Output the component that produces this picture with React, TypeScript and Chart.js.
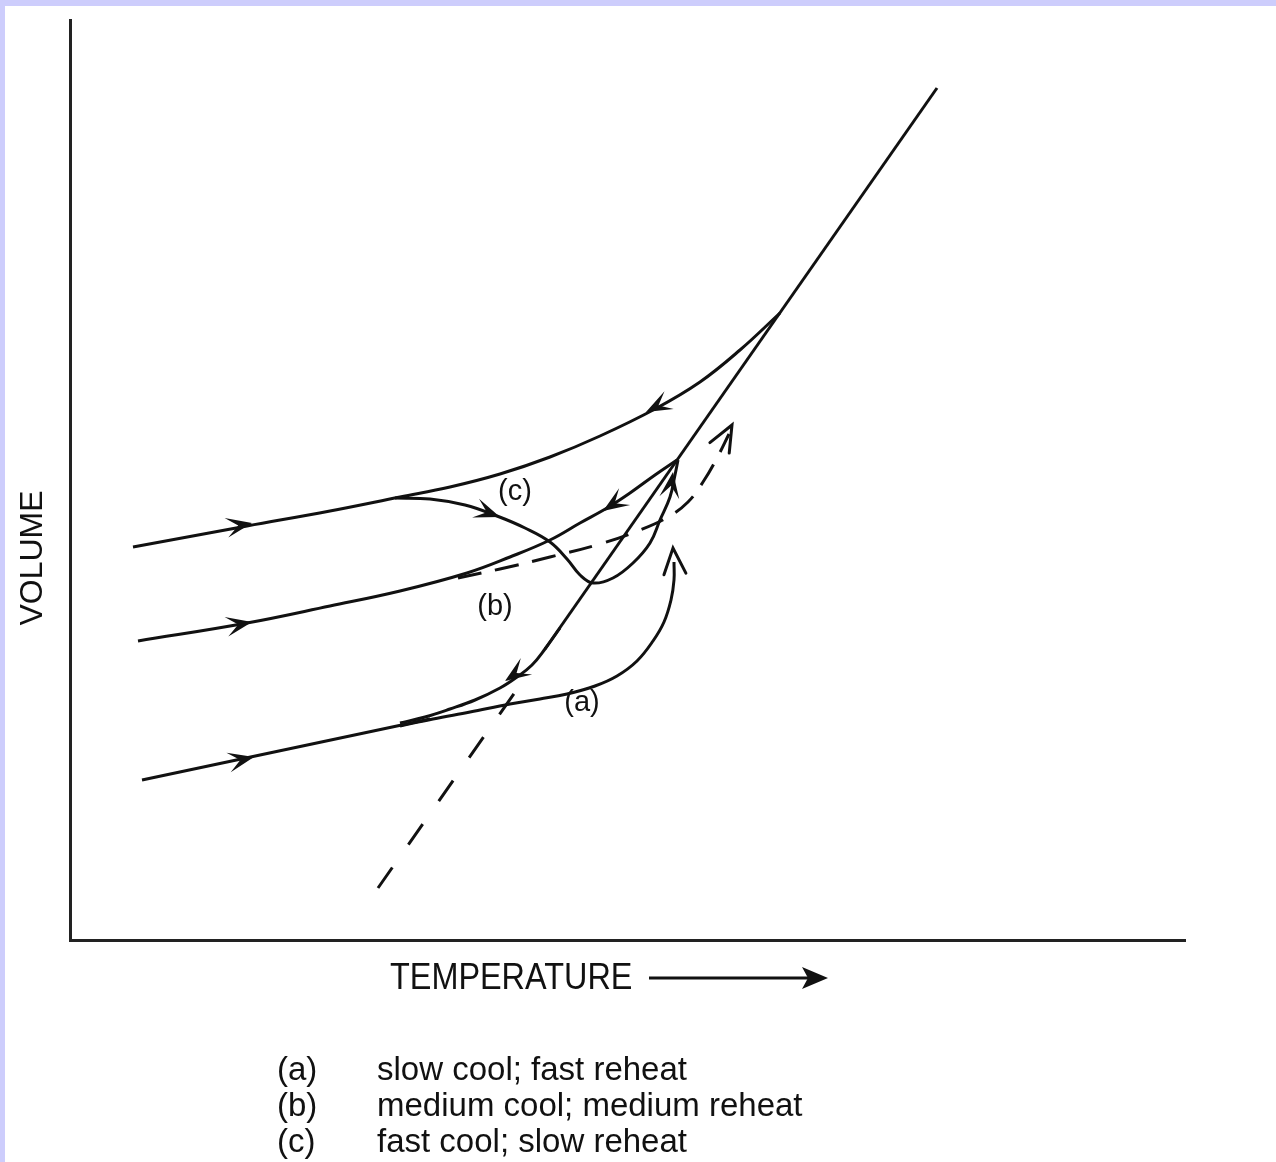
import React, { useEffect, useRef } from "react";
import { Chart, registerables } from "chart.js";

Chart.register(...registerables);

const W = 1276;
const H = 1162;

// Axis ranges (arbitrary units of temperature and volume)
const xMin = 0;
const xMax = 1115;
const yMin = 0;
const yMax = 920;

// Equilibrium liquid line (solid) and its extrapolation (dashed)
const liquidLine: number[][] = [[475, 291], [867, 852]];
const liquidExtrapolated: number[][] = [[308, 52], [450, 255]];

// (a) slow cool; fast reheat
const glassA: number[][] = [[72, 160], [360, 221]];
const coolA: number[][] = [[490, 312], [475, 291], [462, 275], [447, 263], [430, 252], [405, 240], [380, 231], [355, 223], [330, 217]];
const reheatA: number[][] = [[330, 214], [363, 221], [400, 228], [440, 236], [470, 241], [497, 246], [525, 254], [547, 264], [567, 279], [583, 299], [594, 318], [601, 340], [604, 360], [604, 378]];

// (b) medium cool; medium reheat
const curveB: number[][] = [[607, 480], [585, 465], [560, 447], [537, 432], [510, 417], [480, 400], [440, 383], [397, 367], [330, 349], [260, 334], [177, 317], [68, 299]];
const reheatB: number[][] = [[388, 362], [430, 371], [480, 383], [530, 396], [570, 410], [598, 423], [618, 438], [633, 458], [647, 482], [659, 506]];

// (c) fast cool; slow reheat
const curveC: number[][] = [[710, 627], [670, 590], [630, 558], [585, 531], [530, 504], [480, 483], [430, 466], [380, 453], [330, 443], [260, 429], [177, 414], [63, 393]];
const reheatC: number[][] = [[325, 442], [360, 441], [395, 435], [427, 424], [455, 412], [480, 398], [497, 381], [510, 365], [523, 357], [543, 362], [563, 377], [580, 397], [590, 420], [600, 443], [605, 465], [608, 480]];

// Arrowheads: [tipX, tipY, fromX, fromY]
const filledArrows: number[][] = [
  [182, 417, 150, 411],
  [182, 318, 150, 312],
  [184, 183, 152, 176],
  [430, 423, 400, 434],
  [576, 528, 605, 543],
  [533, 429, 560, 447],
  [435, 259, 457, 274],
  [603, 468, 599, 440],
];
const openArrows: number[][] = [
  [603, 392, 605, 365],
  [662, 515, 650, 493],
];

// Curve labels
const curveLabels = ["(a)", "(b)", "(c)"];
const curveLabelPos: number[][] = [[512, 237], [425, 333], [445, 448]];

// Legend
const legendKeys = ["(a)", "(b)", "(c)"];
const legendTexts = ["slow cool; fast reheat", "medium cool; medium reheat", "fast cool; slow reheat"];

const xTitle = "TEMPERATURE";
const yTitle = "VOLUME";

const INK = "#111";
const FONT = '"Liberation Sans", Arial, Helvetica, sans-serif';

function toXY(arr: number[][]) {
  return arr.map((p) => ({ x: p[0], y: p[1] }));
}

function drawFilledArrow(ctx: CanvasRenderingContext2D, tx: number, ty: number, fx: number, fy: number) {
  const a = Math.atan2(ty - fy, tx - fx);
  const bx = Math.cos(a), by = Math.sin(a);
  const px = -by, py = bx;
  const len = 26, half = 10, notch = 14;
  ctx.beginPath();
  ctx.moveTo(tx, ty);
  ctx.lineTo(tx - bx * len + px * half, ty - by * len + py * half);
  ctx.lineTo(tx - bx * notch, ty - by * notch);
  ctx.lineTo(tx - bx * len - px * half, ty - by * len - py * half);
  ctx.closePath();
  ctx.fill();
}

function drawOpenArrow(ctx: CanvasRenderingContext2D, tx: number, ty: number, fx: number, fy: number) {
  const a = Math.atan2(ty - fy, tx - fx);
  const bx = Math.cos(a), by = Math.sin(a);
  const px = -by, py = bx;
  const len = 26, half = 11;
  ctx.beginPath();
  ctx.moveTo(tx - bx * len + px * half, ty - by * len + py * half);
  ctx.lineTo(tx, ty);
  ctx.lineTo(tx - bx * len - px * half, ty - by * len - py * half);
  ctx.stroke();
}

const overlayPlugin = {
  id: "overlay",
  beforeDraw(chart: any) {
    const ctx = chart.ctx as CanvasRenderingContext2D;
    ctx.save();
    ctx.fillStyle = "#cdcdfc";
    ctx.fillRect(0, 0, W, H);
    ctx.fillStyle = "#ffffff";
    ctx.fillRect(5, 6, W - 5, H - 6);
    ctx.restore();
  },
  afterDatasetsDraw(chart: any) {
    const ctx = chart.ctx as CanvasRenderingContext2D;
    const xs = chart.scales.x;
    const ys = chart.scales.y;
    const px = (v: number) => xs.getPixelForValue(v);
    const py = (v: number) => ys.getPixelForValue(v);
    ctx.save();
    ctx.fillStyle = INK;
    ctx.strokeStyle = INK;
    ctx.lineWidth = 3;
    ctx.lineJoin = "miter";
    ctx.lineCap = "round";
    filledArrows.forEach((a) => drawFilledArrow(ctx, px(a[0]), py(a[1]), px(a[2]), py(a[3])));
    openArrows.forEach((a) => drawOpenArrow(ctx, px(a[0]), py(a[1]), px(a[2]), py(a[3])));

    // curve labels
    ctx.font = `29px ${FONT}`;
    ctx.textAlign = "center";
    ctx.textBaseline = "middle";
    curveLabels.forEach((t, i) => {
      ctx.fillText(t, px(curveLabelPos[i][0]), py(curveLabelPos[i][1]));
    });

    // y title
    ctx.save();
    ctx.translate(33, 558);
    ctx.rotate(-Math.PI / 2);
    ctx.font = `32px ${FONT}`;
    ctx.textAlign = "center";
    ctx.textBaseline = "middle";
    ctx.fillText(yTitle, 0, 0);
    ctx.restore();

    // x title with arrow
    ctx.save();
    ctx.translate(390, 979);
    ctx.scale(0.9, 1);
    ctx.font = `36px ${FONT}`;
    ctx.textAlign = "left";
    ctx.textBaseline = "middle";
    ctx.fillText(xTitle, 0, 0);
    ctx.restore();
    ctx.lineWidth = 3;
    ctx.lineCap = "butt";
    ctx.beginPath();
    ctx.moveTo(649, 978);
    ctx.lineTo(822, 978);
    ctx.stroke();
    ctx.beginPath();
    ctx.moveTo(828, 978);
    ctx.lineTo(802, 967);
    ctx.lineTo(808, 978);
    ctx.lineTo(802, 989);
    ctx.closePath();
    ctx.fill();

    // legend
    ctx.font = `33px ${FONT}`;
    ctx.textAlign = "left";
    ctx.textBaseline = "middle";
    legendKeys.forEach((k, i) => {
      const yy = 1071 + i * 36;
      ctx.fillText(k, 277, yy);
      ctx.fillText(legendTexts[i], 377, yy);
    });
    ctx.restore();
  },
};

export default function App() {
  const canvasRef = useRef<HTMLCanvasElement | null>(null);

  useEffect(() => {
    const canvas = canvasRef.current;
    if (!canvas) return;
    const solid = (data: number[][], tension = 0.4) => ({
      data: toXY(data),
      showLine: true,
      borderColor: INK,
      borderWidth: 3,
      pointRadius: 0,
      pointHoverRadius: 0,
      tension,
      fill: false,
    });
    const chart = new Chart(canvas, {
      type: "scatter",
      data: {
        datasets: [
          { ...solid(liquidLine, 0), label: "liquid" },
          { ...solid(liquidExtrapolated, 0), borderDash: [25, 28], label: "extrapolated liquid" },
          { ...solid(glassA, 0), label: "glass a" },
          { ...solid(coolA), label: "cool a" },
          { ...solid(reheatA), label: "reheat a" },
          { ...solid(curveB), label: "b" },
          { ...solid(reheatB), borderDash: [24, 14], label: "reheat b" },
          { ...solid(curveC), label: "c" },
          { ...solid(reheatC), label: "reheat c" },
        ] as any,
      },
      options: {
        responsive: false,
        animation: false,
        devicePixelRatio: 1,
        layout: { padding: { left: 70, top: 20, right: W - 1185, bottom: H - 940 } },
        plugins: { legend: { display: false }, tooltip: { enabled: false }, title: { display: false } },
        events: [],
        scales: {
          x: {
            type: "linear",
            min: xMin,
            max: xMax,
            ticks: { display: false },
            grid: { display: false, drawTicks: false },
            border: { display: true, color: "#222", width: 3 },
          },
          y: {
            type: "linear",
            min: yMin,
            max: yMax,
            ticks: { display: false },
            grid: { display: false, drawTicks: false },
            border: { display: true, color: "#222", width: 3 },
          },
        },
      } as any,
      plugins: [overlayPlugin],
    });
    return () => chart.destroy();
  }, []);

  return (
    <div style={{ position: "fixed", left: 0, top: 0, width: W, height: H, background: "#fff" }}>
      <canvas ref={canvasRef} width={W} height={H} style={{ width: W, height: H, display: "block" }} />
    </div>
  );
}
